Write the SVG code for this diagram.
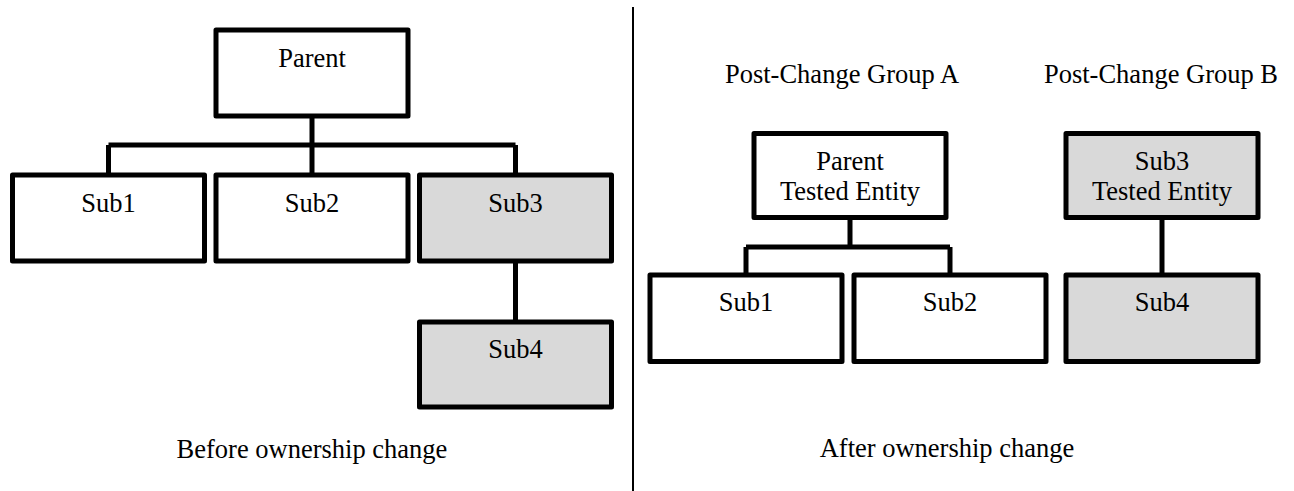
<svg xmlns="http://www.w3.org/2000/svg" width="1294" height="491" viewBox="0 0 1294 491">
<style>
.box{fill:#ffffff;stroke:#000;stroke-width:5;stroke-linejoin:round}
.grey{fill:#d9d9d9}
.ln{fill:none;stroke:#000;stroke-width:5;stroke-linecap:butt}
.t{font-family:'Liberation Serif','Times New Roman',serif;font-size:26.5px;fill:#000;text-anchor:middle}
</style>
<rect width="1294" height="491" fill="#fff"/>
<g id="connectors">
<path class="ln" d="M312 116V145M108.5 145H515.5M108.5 145V175M312 145V175M515.5 145V175"/>
<path class="ln" d="M515.5 261V322"/>
<path class="ln" d="M850 217.5V247M746 247H950M746 247V275M950 247V275"/>
<path class="ln" d="M1162 217.5V275"/>
<line x1="633" y1="7" x2="633" y2="491" stroke="#000" stroke-width="2"/>
</g>
<g id="parent"><rect class="box" x="216" y="30" width="192" height="86"/><text class="t" x="312" y="67">Parent</text></g>
<g id="sub1"><rect class="box" x="12.5" y="175" width="192" height="86"/><text class="t" x="108.5" y="212">Sub1</text></g>
<g id="sub2"><rect class="box" x="216" y="175" width="192" height="86"/><text class="t" x="312" y="212">Sub2</text></g>
<g id="sub3"><rect class="box grey" x="419.5" y="175" width="192" height="86"/><text class="t" x="515.5" y="212">Sub3</text></g>
<g id="sub4"><rect class="box grey" x="419.5" y="322" width="192" height="85"/><text class="t" x="515.5" y="358">Sub4</text></g>
<g id="before-label"><text class="t" x="312" y="458">Before ownership change</text></g>
<g id="group-a-label"><text class="t" x="842" y="83">Post-Change Group A</text></g>
<g id="group-b-label"><text class="t" x="1161" y="83">Post-Change Group B</text></g>
<g id="parent-te"><rect class="box" x="754" y="133.5" width="192" height="84"/><text class="t" x="850" y="170">Parent</text><text class="t" x="850" y="200">Tested Entity</text></g>
<g id="sub3-te"><rect class="box grey" x="1066" y="133.5" width="192" height="84"/><text class="t" x="1162" y="170">Sub3</text><text class="t" x="1162" y="200">Tested Entity</text></g>
<g id="a-sub1"><rect class="box" x="650" y="275" width="192" height="86.5"/><text class="t" x="746" y="311">Sub1</text></g>
<g id="a-sub2"><rect class="box" x="854" y="275" width="192" height="86.5"/><text class="t" x="950" y="311">Sub2</text></g>
<g id="b-sub4"><rect class="box grey" x="1066" y="275" width="192" height="86.5"/><text class="t" x="1162" y="311">Sub4</text></g>
<g id="after-label"><text class="t" x="947" y="457">After ownership change</text></g>
</svg>
